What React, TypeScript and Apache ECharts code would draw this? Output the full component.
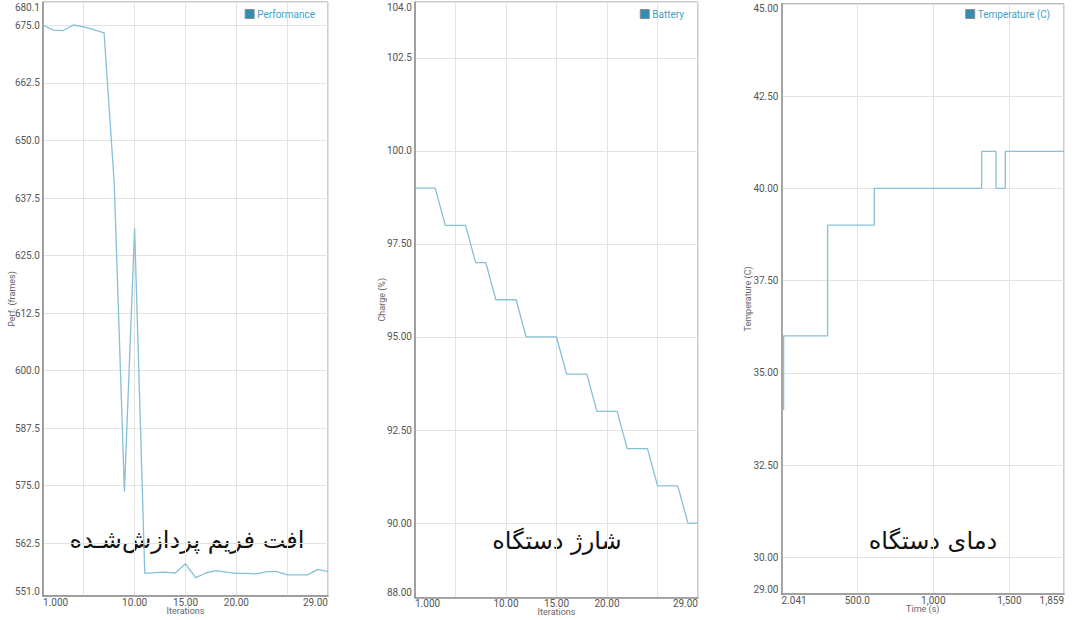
import { useEffect, useRef } from "react";
import * as echarts from "echarts";

// ---------- data ----------
const iterations = [1, 2, 3, 4, 5, 6, 7, 8, 9, 10, 11, 12, 13, 14, 15, 16, 17, 18, 19, 20, 21, 22, 23, 24, 25, 26, 27, 28, 29];
const performance = [675.1, 674.0, 673.9, 675.1, 674.7, 674.1, 673.4, 640.7, 573.7, 630.9, 555.9, 556.1, 556.2, 556.0, 558.0, 555.0, 556.0, 556.5, 556.2, 555.9, 555.9, 555.8, 556.3, 556.3, 555.6, 555.6, 555.6, 556.8, 556.3];
const battery = [99, 99, 99, 98, 98, 98, 97, 97, 96, 96, 96, 95, 95, 95, 95, 94, 94, 94, 93, 93, 93, 92, 92, 92, 91, 91, 91, 90, 90];
const tempTimes = [2.041, 16, 305, 612, 1318, 1412, 1473, 1859];
const tempValues = [34, 36, 39, 40, 41, 40, 41, 41];

const perfTicks = [551, 562.5, 575, 587.5, 600, 612.5, 625, 637.5, 650, 662.5, 675, 680.1];
const batteryTicks = [88, 90, 92.5, 95, 97.5, 100, 102.5, 104];
const tempTicks = [29, 30, 32.5, 35, 37.5, 40, 42.5, 45];
const iterGridTicks = [1, 5, 10, 15, 20, 25, 29];
const iterLabelTicks = [1, 10, 15, 20, 29];
const timeTicks = [2.041, 500, 1000, 1500, 1859];

const titles = ["افت فریم پردازش\u200cشـده", "شارژ دستگاه", "دمای دستگاه"];

// ---------- styles ----------
const LINE = "#86c0d8";
const LABEL = "#555";
const GRIDLINE = "#e3e3e3";
const AXIS = "#8c8c8c";

function fmt(v: number): string {
  if (Math.abs(v) >= 1000) {
    const s = String(Math.round(v));
    return s.replace(/\B(?=(\d{3})+(?!\d))/g, ",");
  }
  return Number(v).toPrecision(4);
}

function yAxis(i: number, min: number, max: number, ticks: number[], name: string, gap: number) {
  return {
    type: "value",
    gridIndex: i,
    min,
    max,
    name,
    nameLocation: "middle",
    nameGap: gap,
    nameMoveOverlap: false,
    nameTextStyle: { color: "#666", fontSize: 9, fontFamily: "Roboto" },
    axisLine: { show: true, lineStyle: { color: AXIS, width: 1.5 } },
    axisTick: { show: false, customValues: ticks },
    axisLabel: {
      customValues: ticks,
      formatter: fmt,
      color: LABEL,
      fontSize: 10,
      fontFamily: "Roboto",
      margin: 3,
      showMinLabel: true,
      showMaxLabel: true,
      verticalAlignMinLabel: "bottom",
      verticalAlignMaxLabel: "top",
    },
    splitLine: { show: true, lineStyle: { color: GRIDLINE, width: 1 } },
  };
}

function xAxis(i: number, min: number, max: number, gridTicks: number[], labelTicks: number[], name: string) {
  return {
    type: "value",
    gridIndex: i,
    min,
    max,
    name,
    nameLocation: "middle",
    nameGap: 10,
    nameMoveOverlap: false,
    nameTextStyle: { color: "#666", fontSize: 9, fontFamily: "Roboto" },
    axisLine: { show: true, lineStyle: { color: AXIS, width: 1.5 } },
    axisTick: { show: false, customValues: gridTicks },
    axisLabel: {
      customValues: labelTicks,
      formatter: fmt,
      color: LABEL,
      fontSize: 10,
      fontFamily: "Roboto",
      margin: 1,
      showMinLabel: true,
      showMaxLabel: true,
      alignMinLabel: "left",
      alignMaxLabel: "right",
    },
    splitLine: { show: true, lineStyle: { color: GRIDLINE, width: 1 } },
  };
}

function legend(name: string, right: number) {
  return {
    data: [name],
    right,
    top: 4,
    icon: "rect",
    itemWidth: 9,
    itemHeight: 9,
    itemGap: 4,
    itemStyle: { color: "#2f8fb5", borderColor: "#8a8a8a", borderWidth: 1 },
    textStyle: { color: "#45a0c6", fontSize: 10, fontFamily: "Roboto", padding: [0, 0, 0, -2] },
    selectedMode: false,
  };
}

export default function App() {
  const ref = useRef<HTMLDivElement>(null);

  useEffect(() => {
    if (!ref.current) return;
    const chart = echarts.init(ref.current, undefined, { renderer: "svg" });

    const perfData = iterations.map((x, k) => [x, performance[k]]);
    const battData = iterations.map((x, k) => [x, battery[k]]);
    const tempData = tempTimes.map((t, k) => [t, tempValues[k]]);

    const gridBase = {
      show: true,
      borderColor: "#9a9a9a",
      borderWidth: 1,
      backgroundColor: "transparent",
      containLabel: false,
      outerBoundsMode: "none",
    };

    chart.setOption({
      animation: false,
      backgroundColor: "#fff",
      textStyle: { fontFamily: "Roboto" },
      grid: [
        { ...gridBase, left: 43, top: 2, width: 285, height: 594 },
        { ...gridBase, left: 415, top: 2, width: 283, height: 595.5 },
        { ...gridBase, left: 781.5, top: 3.8, width: 282.5, height: 590.4 },
      ],
      xAxis: [
        xAxis(0, 1, 29, iterGridTicks, iterLabelTicks, "Iterations"),
        xAxis(1, 1, 29, iterGridTicks, iterLabelTicks, "Iterations"),
        xAxis(2, 2.041, 1859, timeTicks, timeTicks, "Time (s)"),
      ],
      yAxis: [
        yAxis(0, 551, 680.1, perfTicks, "Perf. (frames)", 26.5),
        yAxis(1, 88, 104, batteryTicks, "Charge (%)", 28.5),
        yAxis(2, 29, 45, tempTicks, "Temperature (C)", 29.5),
      ],
      legend: [legend("Performance", 760), legend("Battery", 391), legend("Temperature (C)", 25)],
      series: [
        {
          name: "Performance",
          type: "line",
          xAxisIndex: 0,
          yAxisIndex: 0,
          data: perfData,
          showSymbol: false,
          color: LINE,
          lineStyle: { color: LINE, width: 1.3 },
        },
        {
          name: "Battery",
          type: "line",
          xAxisIndex: 1,
          yAxisIndex: 1,
          data: battData,
          showSymbol: false,
          color: LINE,
          lineStyle: { color: LINE, width: 1.3 },
        },
        {
          name: "Temperature (C)",
          type: "line",
          xAxisIndex: 2,
          yAxisIndex: 2,
          data: tempData,
          step: "end",
          showSymbol: false,
          color: LINE,
          lineStyle: { color: LINE, width: 1.3 },
        },
      ],
      graphic: [
        {
          type: "text",
          x: 187,
          y: 540,
          style: { text: titles[0], fontSize: 24, fontFamily: "DejaVu Sans", fill: "#111", align: "center", verticalAlign: "middle" },
        },
        {
          type: "text",
          x: 557,
          y: 541,
          style: { text: titles[1], fontSize: 24, fontFamily: "DejaVu Sans", fill: "#111", align: "center", verticalAlign: "middle" },
        },
        {
          type: "text",
          x: 933,
          y: 541,
          style: { text: titles[2], fontSize: 24, fontFamily: "DejaVu Sans", fill: "#111", align: "center", verticalAlign: "middle" },
        },
      ],
    });

    return () => chart.dispose();
  }, []);

  return <div ref={ref} style={{ position: "fixed", left: 0, top: 0, width: 1080, height: 620 }} />;
}
